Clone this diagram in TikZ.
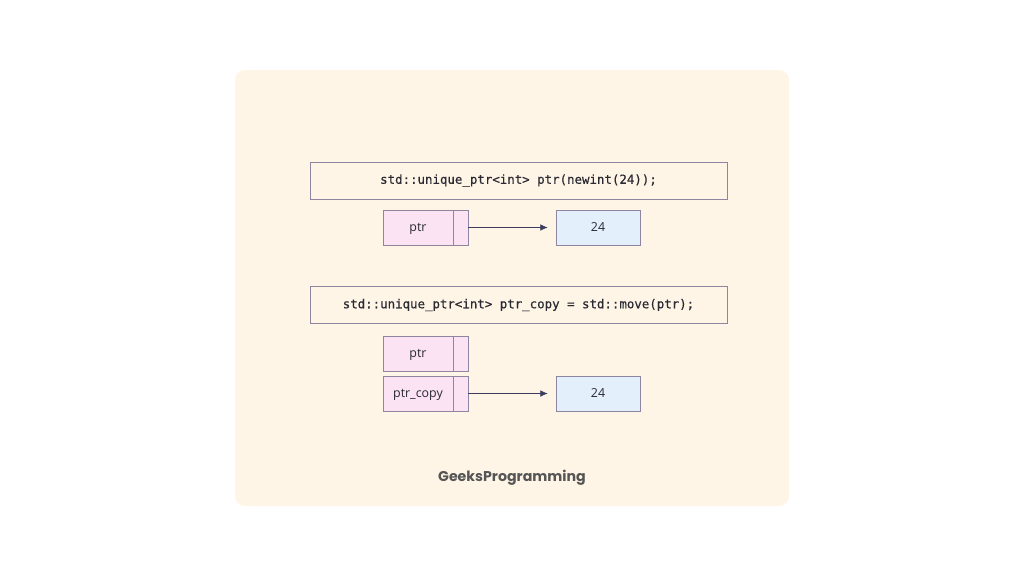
\documentclass[tikz,border=0pt]{standalone}
\usepackage{fontspec}
\setmainfont{Open Sans}
\newfontfamily\codefont[FakeBold=0.5]{DejaVu Sans Mono}
\newfontfamily\brandfont{Poppins}
\usetikzlibrary{arrows.meta}
\definecolor{mempanel}{HTML}{FEF5E6}
\definecolor{memline}{HTML}{8E86A0}
\definecolor{meminkk}{HTML}{2A2A33}
\definecolor{mempink}{HTML}{FBE3F3}
\definecolor{memblue}{HTML}{E3F0FB}
\definecolor{memarrow}{HTML}{3C3C5E}
\definecolor{membrand}{HTML}{555555}

\begin{document}
\begin{tikzpicture}[
  x=0.03cm, y=-0.03cm,
  codebox/.style={draw=memline, fill=mempanel, text=meminkk, line width=0.6pt,
    minimum width=417*0.03cm, minimum height=37*0.03cm, inner sep=0pt,
    font=\codefont\fontsize{10.6}{12}\selectfont},
  ptrbox/.style={draw=memline, fill=mempink, text=meminkk, line width=0.6pt,
    minimum width=70*0.03cm, minimum height=35*0.03cm, inner sep=0pt,
    text height=1.45ex, text depth=0.2ex, font=\fontsize{10.6}{12}\selectfont},
  cellbox/.style={draw=memline, fill=mempink, line width=0.6pt,
    minimum width=15*0.03cm, minimum height=35*0.03cm, inner sep=0pt},
  valbox/.style={draw=memline, fill=memblue, text=meminkk, line width=0.6pt,
    minimum width=84*0.03cm, minimum height=35*0.03cm, inner sep=0pt,
    text height=1.45ex, text depth=0.2ex, font=\fontsize{10.6}{12}\selectfont},
  link/.style={draw=memarrow, line width=0.6pt, -{Latex[length=2.2mm,width=2mm]},
    shorten >=2.4mm},
]
\useasboundingbox (0,0) rectangle (1024,576);
\fill[white] (0,0) rectangle (1024,576);

% ===== panel =====
\fill[mempanel, rounded corners=0.3cm] (235,70) rectangle (789,506);

% ===== first statement =====
\node[codebox] (code1) at (518.5,180.5) {std::unique\_ptr<int> ptr(newint(24));};
\node[ptrbox] (ptr1) at (418,227.5) {ptr};
\node[cellbox] (cell1) at (460.5,227.5) {};
\node[valbox] (val1) at (598,227.5) {24};
\draw[link] (cell1) -- (val1);

% ===== second statement =====
\node[codebox] (code2) at (518.5,305) {std::unique\_ptr<int> ptr\_copy = std::move(ptr);};
\node[ptrbox] (ptr2) at (418,353.5) {ptr};
\node[cellbox] (cell2) at (460.5,353.5) {};
\node[ptrbox] (copy2) at (418,393.5) {ptr\_copy};
\node[cellbox] (cell3) at (460.5,393.5) {};
\node[valbox] (val2) at (598,393.5) {24};
\draw[link] (cell3) -- (val2);

% ===== brand =====
\node[font=\brandfont\fontsize{12.1}{14}\selectfont\bfseries, text=membrand] (brand)
  at (512,478) {GeeksProgramming};

\end{tikzpicture}
\end{document}
